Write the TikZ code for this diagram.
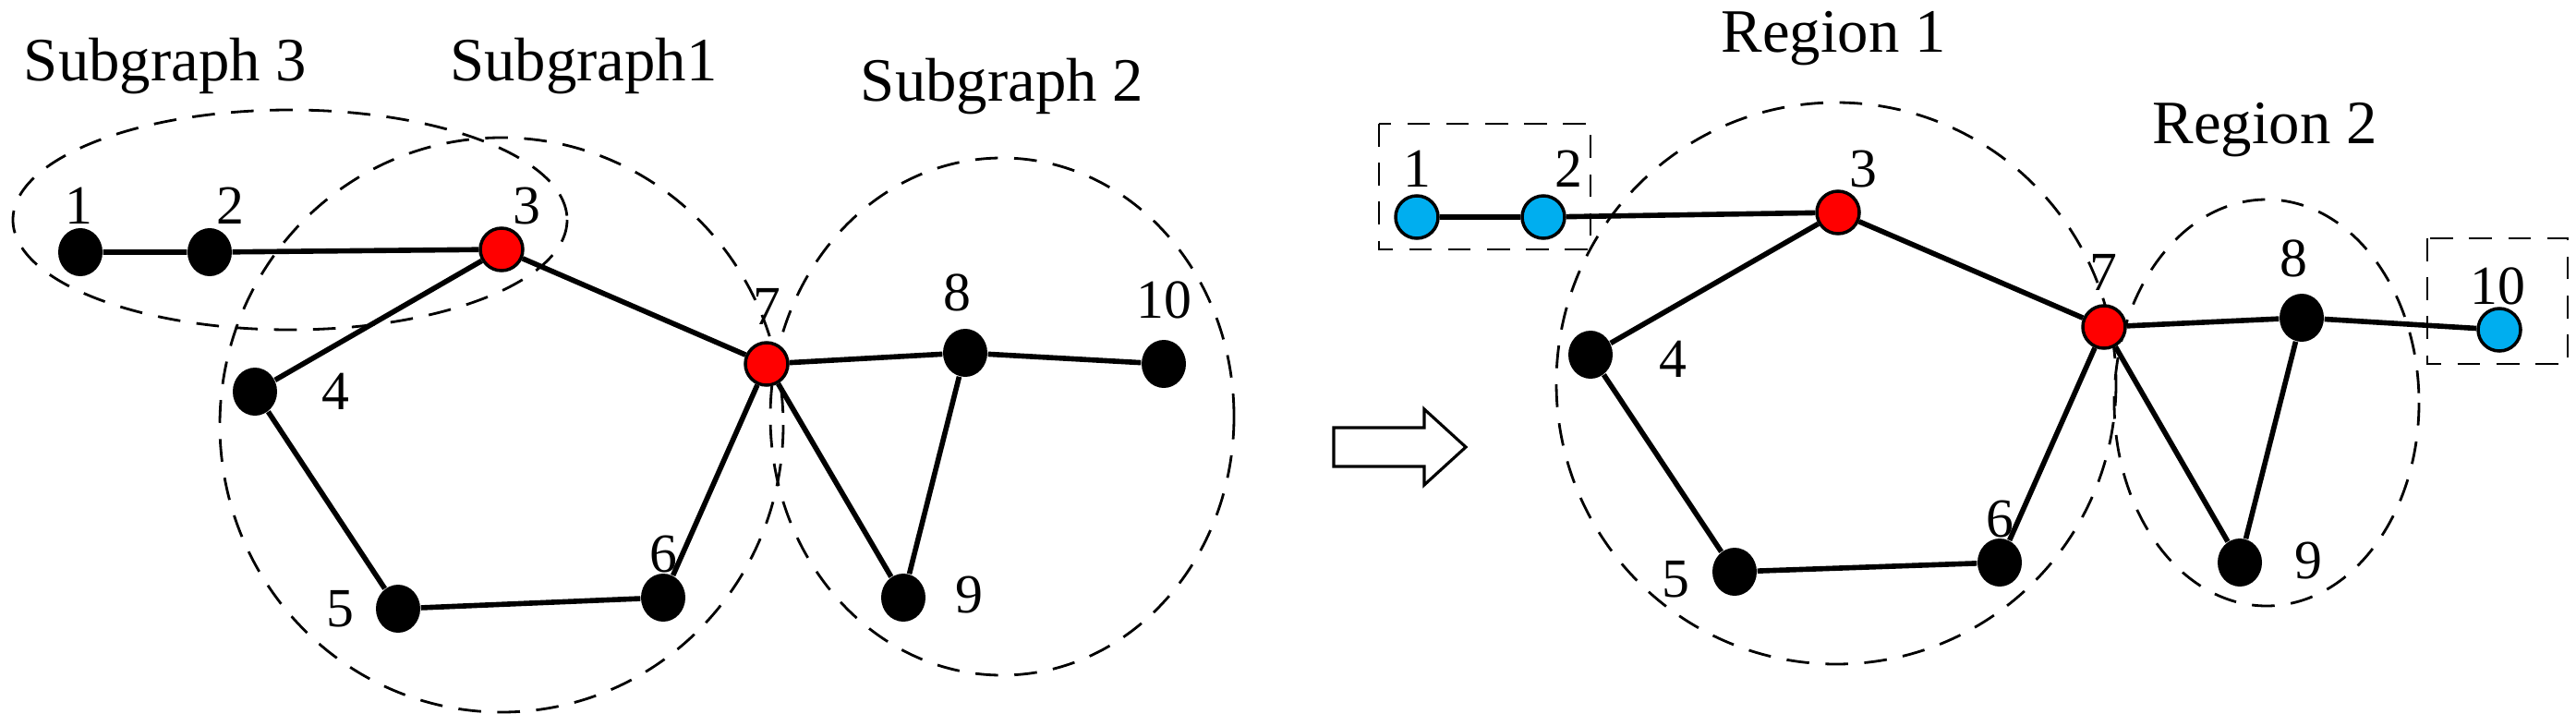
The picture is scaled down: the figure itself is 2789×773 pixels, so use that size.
\documentclass[tikz,border=0pt]{standalone}
\usepackage{fontspec}
\setmainfont{Liberation Serif}
\usetikzlibrary{shapes.geometric}
\definecolor{nodeblue}{RGB}{0,174,239}
\begin{document}
\begin{tikzpicture}[x=0.1mm,y=-0.1mm,
  blk/.style={ellipse,fill=black,minimum width=4.8mm,minimum height=5.2mm,inner sep=0pt},
  rednode/.style={circle,fill=red,draw=black,line width=1pt,minimum size=4.6mm,inner sep=0pt},
  bluenode/.style={circle,fill=nodeblue,draw=black,line width=1pt,minimum size=4.6mm,inner sep=0pt},
  edge/.style={line width=1.6pt},
  region/.style={line width=0.8pt,dash pattern=on 7pt off 5pt},
  lbl/.style={font=\fontsize{17}{17}\selectfont,inner sep=0pt},
  title/.style={font=\fontsize{19}{19}\selectfont,inner sep=0pt}]
\useasboundingbox (0,0) rectangle (2789,773);
% left ellipses
\draw[region] (314,238) ellipse [x radius=300,y radius=119];
\draw[region] (543,460) ellipse [x radius=305,y radius=311];
\draw[region] (1085,451) ellipse [x radius=251,y radius=280];
\node[title] (t3) at (179,72) {Subgraph 3};
\node[title] (t1) at (632,72) {Subgraph1};
\node[title] (t2) at (1085,94) {Subgraph 2};
% left nodes
\node[blk] (a1) at (87,273) {};
\node[blk] (a2) at (227,273) {};
\node[rednode] (a3) at (543,270) {};
\node[blk] (a4) at (276,424) {};
\node[blk] (a5) at (431,659) {};
\node[blk] (a6) at (718,647) {};
\node[rednode] (a7) at (830,394) {};
\node[blk] (a8) at (1045,382) {};
\node[blk] (a9) at (978,647) {};
\node[blk] (a10) at (1260,394) {};
\draw[edge] (a1)--(a2)--(a3)--(a7)--(a8)--(a10);
\draw[edge] (a3)--(a4)--(a5)--(a6)--(a7)--(a9)--(a8);
\node[lbl] (la1) at (85,223) {1};
\node[lbl] (la2) at (249,223) {2};
\node[lbl] (la3) at (570,223) {3};
\node[lbl] (la4) at (363,424) {4};
\node[lbl] (la5) at (368,659) {5};
\node[lbl] (la6) at (718,600) {6};
\node[lbl] (la7) at (830,332) {7};
\node[lbl] (la8) at (1036,317) {8};
\node[lbl] (la9) at (1049,644) {9};
\node[lbl] (la10) at (1260,325) {10};
% arrow
\coordinate (arr) at (1444,484);
\draw[line width=0.9pt,fill=white] (arr) ++(0,-21) -- ++(98,0) -- ++(0,-20) -- ++(45,41) -- ++(-45,41) -- ++(0,-20) -- ++(-98,0) -- cycle;
% right
\draw[region] (1988,415) ellipse [x radius=303,y radius=304];
\draw[region] (2454,436) ellipse [x radius=165,y radius=220];
\draw[region] (1493,134) rectangle (1722,270);
\draw[region] (2628,258) rectangle (2780,394);
\node[title] (r1) at (1985,42) {Region 1};
\node[title] (r2) at (2452,141) {Region 2};
\node[bluenode] (b1) at (1534,235) {};
\node[bluenode] (b2) at (1671,235) {};
\node[rednode] (b3) at (1990,230) {};
\node[blk] (b4) at (1722,384) {};
\node[blk] (b5) at (1878,619) {};
\node[blk] (b6) at (2165,609) {};
\node[rednode] (b7) at (2278,354) {};
\node[blk] (b8) at (2492,344) {};
\node[blk] (b9) at (2425,609) {};
\node[bluenode] (b10) at (2706,357) {};
\draw[edge] (b1)--(b2)--(b3)--(b7)--(b8)--(b10);
\draw[edge] (b3)--(b4)--(b5)--(b6)--(b7)--(b9)--(b8);
\node[lbl] (lb1) at (1534,183) {1};
\node[lbl] (lb2) at (1698,183) {2};
\node[lbl] (lb3) at (2017,183) {3};
\node[lbl] (lb4) at (1811,389) {4};
\node[lbl] (lb5) at (1814,627) {5};
\node[lbl] (lb6) at (2165,562) {6};
\node[lbl] (lb7) at (2277,295) {7};
\node[lbl] (lb8) at (2483,280) {8};
\node[lbl] (lb9) at (2499,607) {9};
\node[lbl] (lb10) at (2704,310) {10};
\end{tikzpicture}
\end{document}
